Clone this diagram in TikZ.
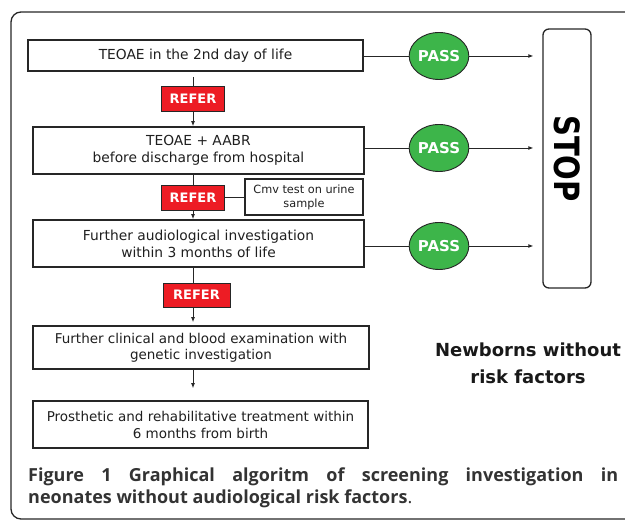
\documentclass[tikz,border=0pt]{standalone}
\usepackage{fontspec}
\usepackage{graphicx}
\setmainfont{DejaVu Sans}
\newfontfamily\capfont{Open Sans}
\usetikzlibrary{shapes.geometric,arrows.meta}
\definecolor{lc}{HTML}{262626}
\definecolor{referred}{HTML}{ED1C24}
\definecolor{passgreen}{HTML}{3DB54A}
\definecolor{captext}{HTML}{333333}
\begin{document}
\begin{tikzpicture}[x=1pt,y=-1pt,
  stepbox/.style={draw=lc, line width=1.7pt, inner sep=0pt, align=center,
    text=black!88, font=\fontsize{13.8}{17}\selectfont},
  referbox/.style={draw=lc, line width=0.9pt, fill=referred, inner sep=0pt,
    text=white, font=\bfseries\fontsize{13}{15}\selectfont},
  passnode/.style={ellipse, draw=lc, line width=0.9pt, fill=passgreen, inner sep=0pt,
    minimum width=56pt, minimum height=47pt, text=white,
    font=\bfseries\fontsize{15}{17}\selectfont},
  conn/.style={draw=lc, line width=0.9pt},
  arr/.style={conn, -{Latex[length=5pt,width=4pt]}}
]
\clip (0,0) rectangle (625,521);
% outer frame
\draw[lc, line width=1.3pt, rounded corners=10pt] (640,12) -- (11,12) -- (11,519) -- (640,519);

% boxes
\node[stepbox, minimum width=335pt, minimum height=31pt] (box1) at (195.5,55.5) {TEOAE in the 2nd day of life};
\node[stepbox, minimum width=331pt, minimum height=47pt] (box2) at (198.5,150.5) {TEOAE + AABR\\before discharge from hospital};
\node[stepbox, minimum width=331pt, minimum height=47pt] (box3) at (198.5,243.5) {Further audiological investigation\\within 3 months of life};
\node[stepbox, minimum width=336pt, minimum height=43pt, font=\fontsize{13.5}{16}\selectfont] (box4) at (201,347.5) {Further clinical and blood examination with\\genetic investigation};
\node[stepbox, minimum width=335pt, minimum height=47pt, font=\fontsize{13.5}{17}\selectfont] (box5) at (200.5,424.5) {Prosthetic and rehabilitative treatment within\\6 months from birth};
\node[stepbox, line width=1.3pt, minimum width=118pt, minimum height=36pt, font=\fontsize{11.3}{14}\selectfont] (cmv) at (304,197) {Cmv test on urine\\sample};

% refer boxes
\node[referbox, minimum width=63pt, minimum height=25pt] (refer1) at (193,98.5) {REFER};
\node[referbox, minimum width=63pt, minimum height=25pt] (refer2) at (193,197.5) {REFER};
\node[referbox, minimum width=67pt, minimum height=24pt] (refer3) at (196.5,295) {REFER};

% pass nodes
\node[passnode] (pass1) at (439,56) {PASS};
\node[passnode] (pass2) at (439,148) {PASS};
\node[passnode] (pass3) at (439,246) {PASS};

% stop
\node[draw=lc, line width=1.3pt, rounded corners=6pt, minimum width=48pt, minimum height=259pt, inner sep=0pt,
  font=\bfseries\fontsize{29}{30}\selectfont] (stop) at (567,158.5) {\rotatebox{-90}{\scalebox{1}[1.2]{STOP}}};

% label
\node[align=center, inner sep=0pt, text=black!90, font=\bfseries\fontsize{18}{27}\selectfont] (label) at (528,363) {Newborns without\\risk factors};

% caption
\node[anchor=north west, inner sep=0pt, text width=590pt, align=justify, text=captext,
  font=\capfont\bfseries\fontsize{18}{22.5}\selectfont] (caption) at (28,467.5)
  {Figure 1 Graphical algoritm of screening investigation in\linebreak neonates without audiological risk factors{\mdseries .}};

% vertical connectors
\draw[conn, shorten <=5pt] (box1.south -| refer1.north) -- (refer1.north);
\draw[arr] (refer1.south) -- (box2.north -| refer1.south);
\draw[conn] (box2.south -| refer2.north) -- (refer2.north);
\draw[arr] (refer2.south) -- (box3.north -| refer2.south);
\draw[conn] (box3.south -| refer2.north) -- (refer3.north -| refer2.north);
\draw[arr, shorten >=3pt] (refer3.south -| refer2.south) -- (box4.north -| refer2.south);
\draw[arr, shorten >=12pt] (box4.south -| refer2.south) -- (box5.north -| refer2.south);
\draw[conn] (refer2.east) -- (cmv.west |- refer2.east);

% horizontal connectors
\draw[conn] (box1.east |- pass1.west) -- (pass1.west);
\draw[arr, shorten >=9pt] (pass1.east) -- (stop.west |- pass1.east);
\draw[conn] (box2.east |- pass2.west) -- (pass2.west);
\draw[arr, shorten >=9pt] (pass2.east) -- (stop.west |- pass2.east);
\draw[conn] (box3.east |- pass3.west) -- (pass3.west);
\draw[arr, shorten >=9pt] (pass3.east) -- (stop.west |- pass3.east);
\end{tikzpicture}
\end{document}
